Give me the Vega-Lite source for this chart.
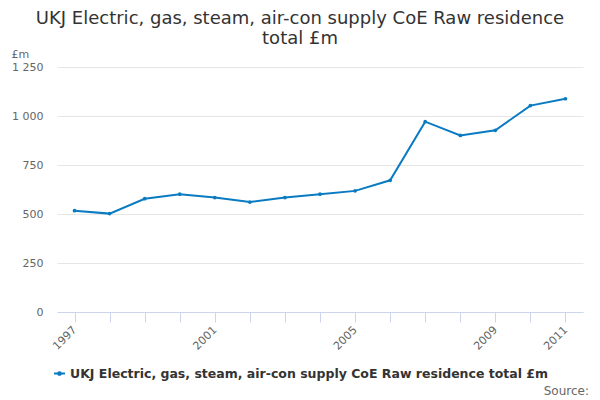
{
  "$schema": "https://vega.github.io/schema/vega-lite/v6.json",
  "autosize": "none",
  "width": 526,
  "height": 245,
  "padding": {"left": 57, "top": 67, "right": 17, "bottom": 88},
  "background": "white",
  "title": {
    "text": ["UKJ Electric, gas, steam, air-con supply CoE Raw residence", "total £m"],
    "anchor": "middle",
    "frame": "group",
    "dx": -20,
    "offset": 0,
    "font": "DejaVu Sans",
    "fontSize": 18,
    "fontWeight": "normal",
    "color": "#333333",
    "lineHeight": 20
  },
  "config": {
    "view": {"stroke": null},
    "font": "DejaVu Sans",
    "axis": {
      "labelFont": "DejaVu Sans",
      "labelFontSize": 11,
      "labelColor": "#666666",
      "titleFont": "DejaVu Sans"
    }
  },
  "data": {
    "values": [
      {"year": "1997", "value": 517, "series": "UKJ Electric, gas, steam, air-con supply CoE Raw residence total £m"},
      {"year": "1998", "value": 502, "series": "UKJ Electric, gas, steam, air-con supply CoE Raw residence total £m"},
      {"year": "1999", "value": 578, "series": "UKJ Electric, gas, steam, air-con supply CoE Raw residence total £m"},
      {"year": "2000", "value": 601, "series": "UKJ Electric, gas, steam, air-con supply CoE Raw residence total £m"},
      {"year": "2001", "value": 584, "series": "UKJ Electric, gas, steam, air-con supply CoE Raw residence total £m"},
      {"year": "2002", "value": 561, "series": "UKJ Electric, gas, steam, air-con supply CoE Raw residence total £m"},
      {"year": "2003", "value": 584, "series": "UKJ Electric, gas, steam, air-con supply CoE Raw residence total £m"},
      {"year": "2004", "value": 601, "series": "UKJ Electric, gas, steam, air-con supply CoE Raw residence total £m"},
      {"year": "2005", "value": 618, "series": "UKJ Electric, gas, steam, air-con supply CoE Raw residence total £m"},
      {"year": "2006", "value": 672, "series": "UKJ Electric, gas, steam, air-con supply CoE Raw residence total £m"},
      {"year": "2007", "value": 971, "series": "UKJ Electric, gas, steam, air-con supply CoE Raw residence total £m"},
      {"year": "2008", "value": 901, "series": "UKJ Electric, gas, steam, air-con supply CoE Raw residence total £m"},
      {"year": "2009", "value": 927, "series": "UKJ Electric, gas, steam, air-con supply CoE Raw residence total £m"},
      {"year": "2010", "value": 1053, "series": "UKJ Electric, gas, steam, air-con supply CoE Raw residence total £m"},
      {"year": "2011", "value": 1088, "series": "UKJ Electric, gas, steam, air-con supply CoE Raw residence total £m"}
    ]
  },
  "layer": [
    {
      "mark": {"type": "line", "strokeWidth": 2, "point": {"size": 14, "filled": true}},
      "encoding": {
        "x": {
          "field": "year",
          "type": "ordinal",
          "scale": {"type": "point", "padding": 0.5},
          "axis": {
            "title": null,
            "labelAngle": -45,
            "labelAlign": "right",
            "labelBaseline": "middle",
            "labelPadding": 6,
            "labelExpr": "test(/^(1997|2001|2005|2009|2011)$/, datum.label) ? datum.label : ''",
            "domainColor": "#ccd6eb",
            "tickColor": "#ccd6eb",
            "tickSize": 10,
            "grid": false,
            "labelOverlap": false
          }
        },
        "y": {
          "field": "value",
          "type": "quantitative",
          "scale": {"domain": [0, 1250]},
          "axis": {
            "values": [0, 250, 500, 750, 1000, 1250],
            "labelExpr": "replace(format(datum.value, ','), ',', ' ')",
            "domain": false,
            "ticks": false,
            "gridColor": "#e6e6e6",
            "labelPadding": 14,
            "title": "£m",
            "titleAngle": 0,
            "titleAlign": "left",
            "titleBaseline": "alphabetic",
            "titleX": -46,
            "titleY": -10,
            "titleFontSize": 11,
            "titleFontWeight": "normal",
            "titleColor": "#666666"
          }
        },
        "color": {
          "field": "series",
          "type": "nominal",
          "scale": {"range": ["#0a7bc2"]},
          "legend": {
            "title": null,
            "orient": "none",
            "legendX": -4,
            "legendY": 300,
            "labelFont": "DejaVu Sans",
            "labelFontSize": 12.5,
            "labelFontWeight": "bold",
            "labelColor": "#333333",
            "labelLimit": 600,
            "symbolType": "M-1,0L1,0M-0.25,0a0.25,0.25 0 1,0 0.5,0a0.25,0.25 0 1,0 -0.5,0",
            "symbolSize": 120,
            "symbolStrokeWidth": 2
          }
        }
      }
    },
    {
      "data": {"values": [{"label": "Source:"}]},
      "mark": {
        "type": "text",
        "align": "right",
        "baseline": "alphabetic",
        "font": "DejaVu Sans",
        "fontSize": 12,
        "color": "#666666",
        "x": {"expr": "width + 6"},
        "y": {"expr": "height + 83"}
      },
      "encoding": {"text": {"field": "label"}}
    }
  ]
}
